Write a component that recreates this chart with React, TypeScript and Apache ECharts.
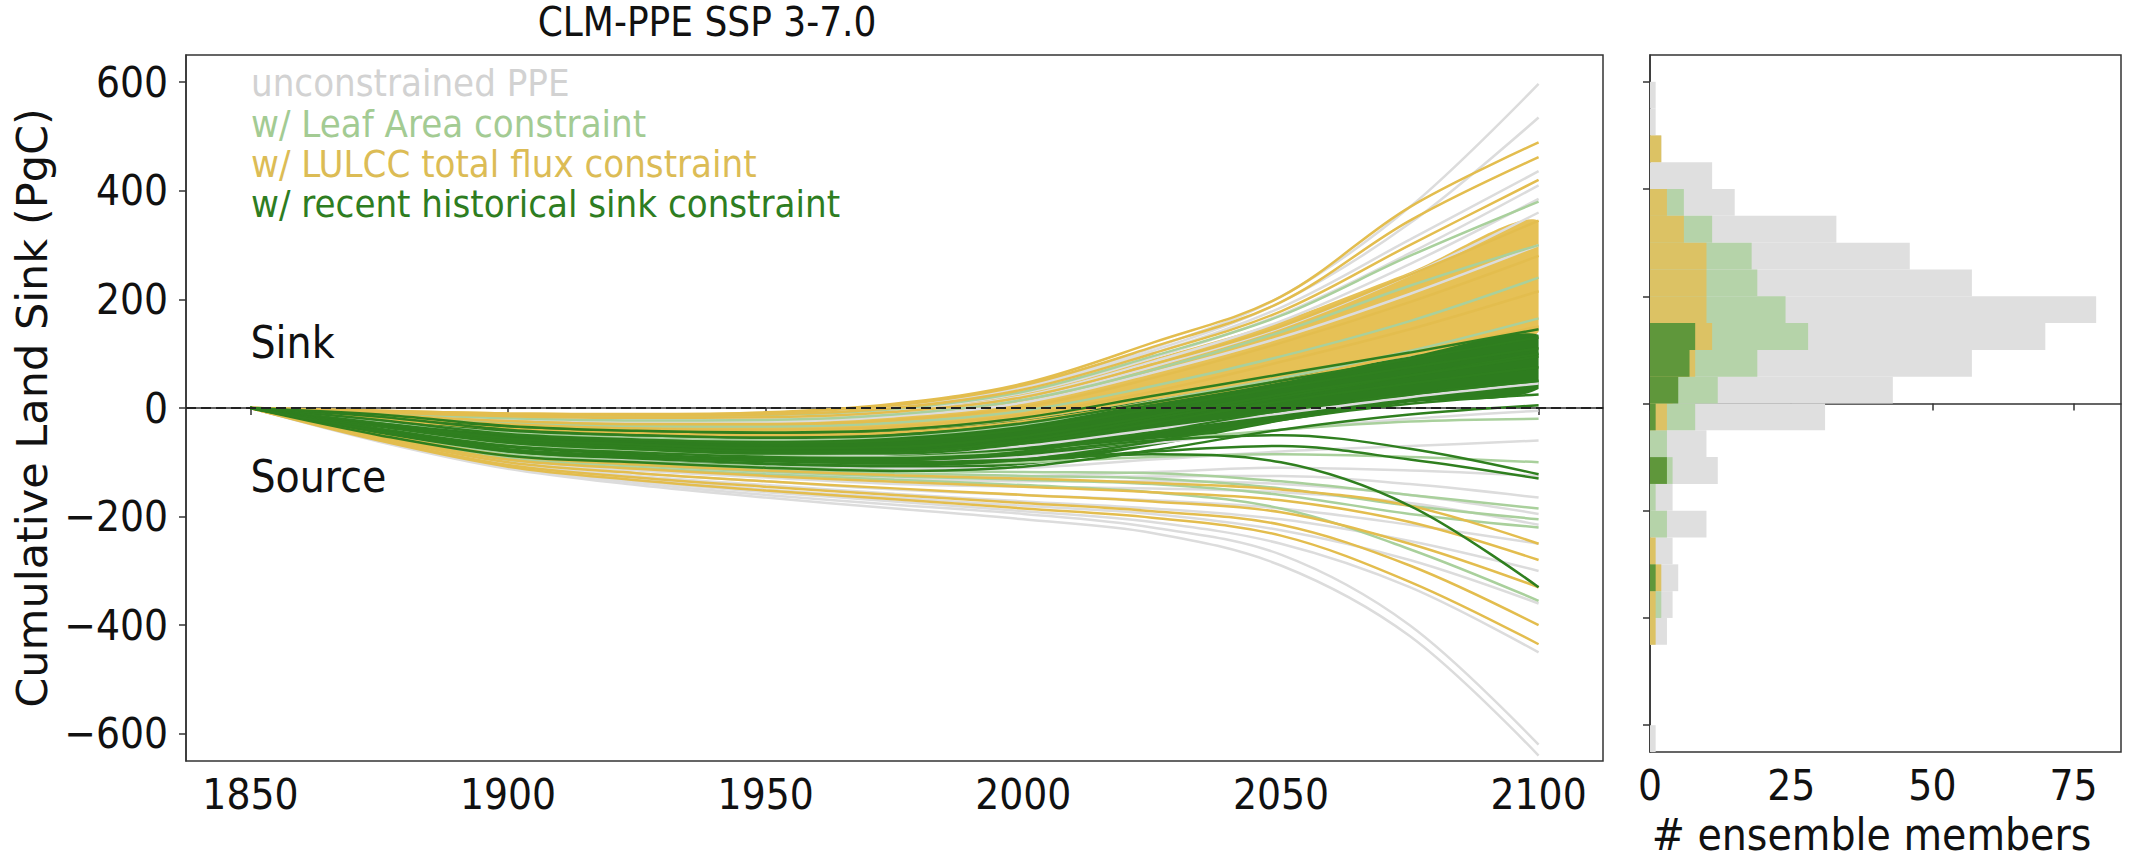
import React, { useEffect, useRef } from "react";
import * as echarts from "echarts";

// ---------- data ----------
const YEARS = [1850, 1875, 1900, 1925, 1950, 1975, 2000, 2025, 2050, 2075, 2100];

// unconstrained PPE members (grey)
const GRAY_LINES = [
  [0, -6, -12, -14, -12, 2, 40, 110, 205, 370, 597],
  [0, -6, -12, -14, -12, 2, 38, 105, 195, 340, 535],
  [0, -7, -13, -15, -13, 0, 33, 100, 185, 310, 436],
  [0, -8, -14, -17, -15, -3, 28, 92, 172, 285, 410],
  [0, -9, -16, -19, -18, -6, 22, 85, 160, 265, 385],
  [0, -10, -18, -22, -21, -10, 16, 76, 148, 245, 360],
  [0, -12, -20, -25, -25, -15, 10, 65, 130, 210, 300],
  [0, -40, -75, -85, -88, -85, -70, -40, -10, 20, 45],
  [0, -45, -85, -95, -100, -100, -90, -65, -40, -20, -5],
  [0, -48, -88, -100, -108, -112, -110, -95, -80, -70, -60],
  [0, -50, -92, -106, -115, -122, -125, -118, -110, -115, -125],
  [0, -50, -93, -108, -118, -126, -128, -126, -125, -140, -165],
  [0, -52, -95, -110, -120, -130, -135, -135, -140, -160, -195],
  [0, -54, -98, -115, -128, -140, -145, -148, -155, -175, -215],
  [0, -55, -100, -120, -135, -150, -160, -170, -185, -215, -250],
  [0, -56, -103, -125, -142, -158, -172, -185, -205, -245, -300],
  [0, -58, -106, -130, -150, -165, -180, -195, -225, -280, -360],
  [0, -60, -110, -135, -155, -172, -190, -210, -250, -330, -450],
  [0, -60, -110, -138, -160, -178, -195, -220, -270, -400, -620],
  [0, -62, -112, -142, -165, -185, -205, -230, -290, -420, -640],
];

// w/ Leaf Area constraint (light green)
const LEAF_LINES = [
  [0, -7, -13, -15, -13, -2, 30, 95, 170, 280, 380],
  [0, -10, -19, -23, -22, -12, 15, 70, 140, 225, 300],
  [0, -14, -27, -33, -34, -27, -5, 40, 95, 160, 240],
  [0, -24, -46, -55, -58, -52, -30, 12, 55, 105, 165],
  [0, -36, -66, -80, -88, -90, -80, -60, -40, -25, -20],
  [0, -42, -76, -90, -100, -104, -100, -90, -85, -90, -100],
  [0, -46, -84, -98, -108, -115, -118, -120, -135, -160, -185],
  [0, -48, -88, -102, -113, -120, -125, -130, -148, -180, -205],
  [0, -50, -91, -106, -117, -126, -132, -140, -160, -195, -220],
  [0, -52, -95, -110, -122, -132, -142, -155, -185, -260, -355],
];

// w/ LULCC total flux constraint (yellow): dense band envelope + single members
const LULCC_BAND_LOW = [0, -18, -35, -42, -46, -42, -22, 15, 55, 95, 140];
const LULCC_BAND_HIGH = [0, -6, -12, -14, -12, -2, 28, 90, 160, 250, 345];
const LULCC_LINES = [
  [0, -5, -10, -11, -8, 8, 45, 120, 205, 370, 489],
  [0, -5, -10, -12, -9, 5, 42, 112, 195, 345, 462],
  [0, -6, -12, -14, -12, 0, 34, 100, 178, 300, 420],
  [0, -8, -15, -18, -17, -7, 20, 80, 150, 245, 345],
  [0, -12, -24, -30, -30, -22, 2, 55, 120, 195, 280],
  [0, -16, -30, -38, -40, -34, -12, 30, 85, 145, 215],
  [0, -20, -38, -46, -50, -45, -25, 10, 50, 100, 150],
  [0, -48, -88, -104, -115, -124, -130, -138, -150, -180, -250],
  [0, -52, -95, -112, -125, -136, -145, -155, -170, -210, -280],
  [0, -55, -100, -120, -135, -148, -160, -172, -192, -250, -330],
  [0, -58, -105, -128, -145, -160, -175, -190, -215, -290, -400],
  [0, -60, -108, -133, -152, -168, -185, -202, -235, -320, -435],
];

// w/ recent historical sink constraint (dark green): dense band envelope + single members
const SINK_BAND_LOW = [0, -50, -90, -100, -108, -112, -105, -70, -25, 10, 35];
const SINK_BAND_HIGH = [0, -12, -33, -42, -46, -42, -22, 15, 55, 95, 135];
const SINK_LINES = [
  [0, -12, -33, -42, -45, -40, -18, 22, 62, 102, 145],
  [0, -16, -40, -50, -55, -50, -28, 10, 50, 90, 130],
  [0, -22, -48, -58, -64, -60, -40, -2, 38, 75, 110],
  [0, -30, -60, -72, -80, -80, -60, -20, 20, 60, 100],
  [0, -28, -56, -67, -74, -72, -52, -15, 25, 60, 95],
  [0, -34, -64, -76, -84, -84, -65, -28, 12, 45, 75],
  [0, -40, -72, -85, -94, -96, -80, -45, -5, 25, 50],
  [0, -45, -80, -93, -102, -106, -95, -62, -22, 8, 25],
  [0, -50, -88, -100, -110, -116, -108, -78, -40, -12, 5],
  [0, -38, -70, -82, -90, -92, -82, -60, -50, -75, -122],
  [0, -44, -78, -90, -98, -102, -96, -80, -70, -95, -130],
  [0, -42, -76, -88, -97, -100, -95, -85, -100, -180, -330],
];

// histogram of 2100 values (bins of 50 PgC, bottom to top)
const BIN_CENTERS = [
  -625, -575, -525, -475, -425, -375, -325, -275, -225, -175, -125, -75, -25,
  25, 75, 125, 175, 225, 275, 325, 375, 425, 475, 525, 575, 625,
];
const HIST_GRAY = [1, 0, 0, 0, 3, 4, 5, 4, 10, 4, 12, 10, 31, 43, 57, 70, 79, 57, 46, 33, 15, 11, 2, 1, 1, 0];
const HIST_LEAF = [0, 0, 0, 0, 0, 2, 0, 0, 3, 1, 4, 3, 8, 12, 19, 28, 24, 19, 18, 11, 6, 0, 0, 0, 0, 0];
const HIST_LULCC = [0, 0, 0, 0, 1, 1, 2, 1, 0, 0, 0, 0, 3, 4, 8, 11, 10, 10, 10, 6, 3, 0, 2, 0, 0, 0];
const HIST_SINK = [0, 0, 0, 0, 0, 0, 1, 0, 0, 0, 3, 0, 1, 5, 7, 8, 0, 0, 0, 0, 0, 0, 0, 0, 0, 0];

const Y_TICKS = [-600, -400, -200, 0, 200, 400, 600];
const X_TICKS = [1850, 1900, 1950, 2000, 2050, 2100];

const ANNOTATIONS = [
  { text: "Sink", year: 1850, value: 120 },
  { text: "Source", year: 1850, value: -127 },
];

// ---------- style ----------
const FONT = "'DejaVu Sans Condensed', 'DejaVu Sans', sans-serif";
const C_GRAY = "#dcdcdc";
const C_LEAF = "#a9d09c";
const C_LULCC = "#e3bd4e";
const C_SINK = "#2f7f1f";
const AXIS_C = "#333333";

const minus = (v: number) => String(v).replace("-", "\u2212");
const pairs = (vals: number[]) => YEARS.map((y, i) => [y, vals[i]]);

const lineSeries = (vals: number[], color: string, width: number) => ({
  type: "line",
  xAxisIndex: 0,
  yAxisIndex: 0,
  data: pairs(vals),
  symbol: "none",
  smooth: 0.35,
  silent: true,
  lineStyle: { color, width },
});

// filled envelope drawn through the cartesian scale
const bandSeries = (low: number[], high: number[], color: string) => ({
  type: "custom",
  xAxisIndex: 0,
  yAxisIndex: 0,
  silent: true,
  clip: true,
  data: [[YEARS[0], high[0]]],
  renderItem: (_params: any, api: any) => {
    const top = YEARS.map((y, i) => api.coord([y, high[i]]));
    const bottom = YEARS.map((y, i) => api.coord([y, low[i]])).slice(1).reverse();
    const x0 = top[0][0];
    const x1 = top[top.length - 1][0];
    return {
      type: "polygon",
      shape: {
        points: top.concat(bottom),
        smooth: 0.3,
        smoothConstraint: [
          [x0, -100000],
          [x1, 100000],
        ],
      },
      style: { fill: color },
    };
  },
});

const histSeries = (vals: number[], color: string) => ({
  type: "bar",
  xAxisIndex: 1,
  yAxisIndex: 2,
  data: vals,
  barWidth: "100%",
  barGap: "-100%",
  barCategoryGap: "0%",
  silent: true,
  itemStyle: { color },
});

const legendText = (text: string, y: number, fill: string) => ({
  type: "text",
  x: 251,
  y,
  style: { text, font: `38px ${FONT}`, fill, textVerticalAlign: "middle", lineHeight: 38 },
});

export default function App() {
  const ref = useRef<HTMLDivElement>(null);

  useEffect(() => {
    if (!ref.current) return;
    const chart = echarts.init(ref.current, null, { renderer: "svg" });

    const axisLine = { show: true, lineStyle: { color: AXIS_C, width: 1.5 } };
    const axisTick = { show: true, length: 7, lineStyle: { color: AXIS_C, width: 1.5 } };
    const tickFont = { fontFamily: FONT, fontSize: 42, color: "#111" };

    const option: any = {
      animation: false,
      backgroundColor: "#ffffff",
      grid: [
        { left: 186, top: 55, width: 1417, height: 706, show: true, borderColor: AXIS_C, borderWidth: 1.5 },
        { left: 1650, top: 55, width: 471, height: 706, show: true, borderColor: AXIS_C, borderWidth: 1.5 },
      ],
      xAxis: [
        {
          type: "value",
          gridIndex: 0,
          min: 1837.5,
          max: 2112.5,
          axisLine,
          axisTick: { ...axisTick, customValues: X_TICKS },
          axisLabel: { ...tickFont, margin: 12, customValues: X_TICKS, formatter: (v: number) => String(v) },
          splitLine: { show: false },
        },
        {
          type: "value",
          gridIndex: 1,
          min: 0,
          max: 83.4,
          interval: 25,
          axisLine,
          axisTick,
          axisLabel: { ...tickFont, margin: 12, showMaxLabel: false, formatter: (v: number) => (v > 80 ? "" : String(v)) },
          splitLine: { show: false },
          name: "# ensemble members",
          nameLocation: "middle",
          nameGap: 60,
          nameTextStyle: { fontFamily: FONT, fontSize: 44, color: "#111", padding: [0, 28, 0, 0] },
        },
      ],
      yAxis: [
        {
          type: "value",
          gridIndex: 0,
          min: -650,
          max: 650,
          axisLine,
          axisTick: { ...axisTick, customValues: Y_TICKS },
          axisLabel: { ...tickFont, margin: 18, customValues: Y_TICKS, formatter: (v: number) => minus(v) },
          splitLine: { show: false },
          name: "Cumulative Land Sink (PgC)",
          nameLocation: "middle",
          nameGap: 122,
          nameTextStyle: { fontFamily: "'DejaVu Sans', sans-serif", fontSize: 43, color: "#111" },
        },
        {
          type: "value",
          gridIndex: 1,
          min: -650,
          max: 650,
          axisLine,
          axisTick: { ...axisTick, customValues: Y_TICKS },
          axisLabel: { show: false },
          splitLine: { show: false },
        },
        {
          type: "category",
          gridIndex: 1,
          data: BIN_CENTERS,
          show: false,
          boundaryGap: true,
        },
      ],
      graphic: [
        {
          type: "text",
          x: 707,
          y: 22,
          style: { text: "CLM-PPE SSP 3-7.0", font: `40px ${FONT}`, fill: "#111", textAlign: "center", textVerticalAlign: "middle" },
        },
        legendText("unconstrained PPE", 83, "#d2d2d2"),
        legendText("w/ Leaf Area constraint", 124, "#a3cb93"),
        legendText("w/ LULCC total flux constraint", 164, "#dcbc55"),
        legendText("w/ recent historical sink constraint", 204, "#2e7d21"),
      ],
      series: [
        ...GRAY_LINES.map((l) => lineSeries(l, C_GRAY, 2.5)),
        ...LEAF_LINES.map((l) => lineSeries(l, C_LEAF, 2.5)),
        bandSeries(LULCC_BAND_LOW, LULCC_BAND_HIGH, "#e6c156"),
        ...LULCC_LINES.map((l) => lineSeries(l, C_LULCC, 2.5)),
        bandSeries(SINK_BAND_LOW, SINK_BAND_HIGH, "#2e7d1f"),
        ...SINK_LINES.map((l) => lineSeries(l, C_SINK, 2.5)),
        {
          type: "scatter",
          xAxisIndex: 0,
          yAxisIndex: 0,
          symbolSize: 0,
          silent: true,
          itemStyle: { opacity: 1 },
          data: ANNOTATIONS.map((a) => ({ value: [a.year, a.value], name: a.text })),
          label: {
            show: true,
            position: "right",
            distance: 0,
            formatter: (p: any) => p.name,
            fontFamily: FONT,
            fontSize: 44,
            color: "#111111",
            opacity: 1,
          },
          markLine: {
            silent: true,
            symbol: "none",
            label: { show: false },
            lineStyle: { color: "#222", width: 2, type: [10, 5] },
            data: [{ yAxis: 0 }],
          },
          z: 5,
        },
        histSeries(HIST_GRAY, "#dfdfdf"),
        histSeries(HIST_LEAF, "#b5d3a9"),
        histSeries(HIST_LULCC, "#dcc264"),
        histSeries(HIST_SINK, "#5f973b"),
      ],
    };

    chart.setOption(option);
    return () => chart.dispose();
  }, []);

  return (
    <div
      ref={ref}
      style={{ position: "fixed", left: 0, top: 0, width: 2131, height: 861, background: "#fff" }}
    />
  );
}
